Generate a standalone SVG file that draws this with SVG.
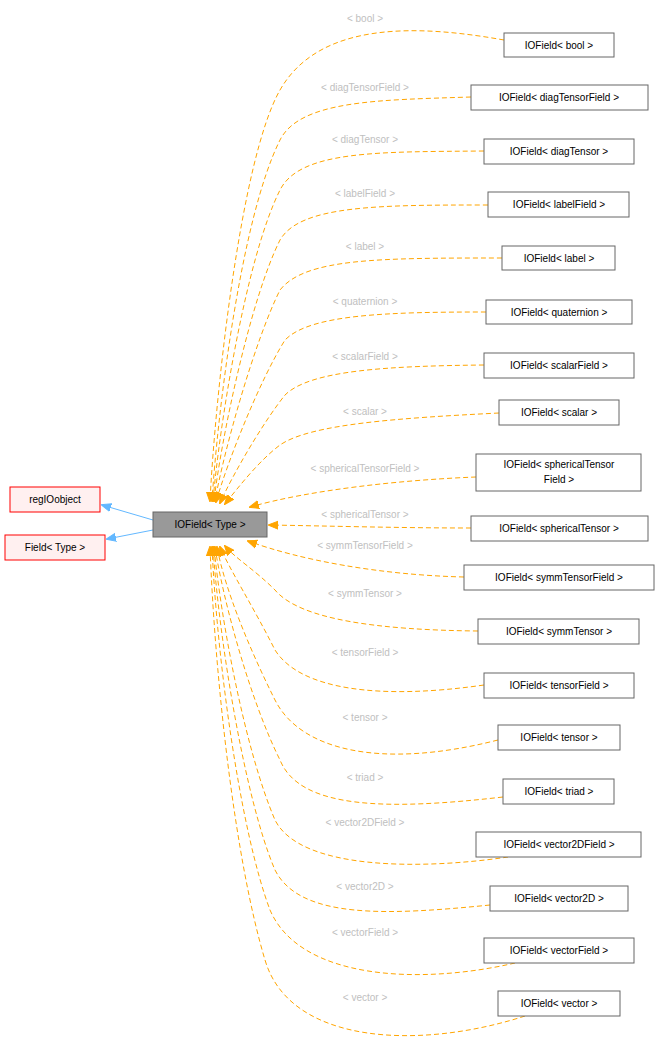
<svg xmlns="http://www.w3.org/2000/svg" width="659" height="1047" viewBox="0 0 659 1047">
<style>
text{font-family:"Liberation Sans",Arial,sans-serif;font-size:10px;text-anchor:middle}
.n rect{fill:#fff;stroke:#666;stroke-width:1}
.r rect{fill:#fff0f0;stroke:#f00;stroke-width:1}
.e{fill:none;stroke:#ffa500;stroke-dasharray:5,3;stroke-width:1}
.b{fill:none;stroke:#63b8ff;stroke-width:1}
.l{fill:#c0c0c0;font-size:10px}
</style>
<defs>
<marker id="ao" markerWidth="10" markerHeight="10" refX="9" refY="5" orient="auto" markerUnits="userSpaceOnUse" viewBox="0 0 10 10"><path d="M0,1 L10,5 L0,9 z" fill="#ffa500" stroke="#ffa500"/></marker>
<marker id="ab" markerWidth="10" markerHeight="10" refX="9" refY="5" orient="auto" markerUnits="userSpaceOnUse" viewBox="0 0 10 10"><path d="M0,1 L10,5 L0,9 z" fill="#63b8ff" stroke="#63b8ff"/></marker>
</defs>
<g id="edges">
<path class="b" d="M153,520 L102,505" marker-end="url(#ab)"/>
<path class="b" d="M153,530 L107,539" marker-end="url(#ab)"/>
<path class="e" marker-end="url(#ao)" d="M504,40 C420,25 320,20 280,90 C240,160 215,400 210,501"/>
<path class="e" marker-end="url(#ao)" d="M471,97 C380,100 300,100 280,140 C240,220 217,420 212,501"/>
<path class="e" marker-end="url(#ao)" d="M484,151 C380,152 300,150 280,190 C245,260 219,430 213,501"/>
<path class="e" marker-end="url(#ao)" d="M488,205 C380,205 300,205 280,240 C250,300 221,440 214,501"/>
<path class="e" marker-end="url(#ao)" d="M502,258 C380,258 305,258 280,290 C255,340 224,450 215,501"/>
<path class="e" marker-end="url(#ao)" d="M486,312 C390,312 310,314 285,340 C260,380 228,460 216,502"/>
<path class="e" marker-end="url(#ao)" d="M484,365 C390,366 310,370 285,395 C265,420 235,470 220,503"/>
<path class="e" marker-end="url(#ao)" d="M499,413 C400,418 310,424 280,445 C260,460 240,485 225,504"/>
<path class="e" marker-end="url(#ao)" d="M476,477 C400,480 310,490 250,507"/>
<path class="e" marker-end="url(#ao)" d="M471,528 C400,528 330,526 269,525"/>
<path class="e" marker-end="url(#ao)" d="M464,577 C380,575 300,560 248,541"/>
<path class="e" marker-end="url(#ao)" d="M478,631 C380,630 300,620 275,590 C255,570 235,558 225,546"/>
<path class="e" marker-end="url(#ao)" d="M484,685 C380,700 300,690 275,650 C255,610 230,570 220,547"/>
<path class="e" marker-end="url(#ao)" d="M498,740 C380,770 300,750 275,700 C250,650 225,590 217,547"/>
<path class="e" marker-end="url(#ao)" d="M503,797 C390,810 300,810 280,760 C250,700 223,600 215,547"/>
<path class="e" marker-end="url(#ao)" d="M508,857 C420,870 300,870 275,820 C245,750 221,620 214,547"/>
<path class="e" marker-end="url(#ao)" d="M490,905 C390,915 300,920 275,870 C245,800 219,640 213,547"/>
<path class="e" marker-end="url(#ao)" d="M515,963 C420,985 300,980 270,910 C240,830 217,660 212,547"/>
<path class="e" marker-end="url(#ao)" d="M525,1016 C420,1050 290,1045 265,960 C235,860 215,680 210,547"/>
</g>
<g class="l">
<text x="365" y="22" class="l">&lt; bool &gt;</text>
<text x="365" y="91" class="l">&lt; diagTensorField &gt;</text>
<text x="365" y="143" class="l">&lt; diagTensor &gt;</text>
<text x="365" y="197" class="l">&lt; labelField &gt;</text>
<text x="365" y="250" class="l">&lt; label &gt;</text>
<text x="365" y="305" class="l">&lt; quaternion &gt;</text>
<text x="365" y="360" class="l">&lt; scalarField &gt;</text>
<text x="365" y="415" class="l">&lt; scalar &gt;</text>
<text x="365" y="472" class="l">&lt; sphericalTensorField &gt;</text>
<text x="365" y="518" class="l">&lt; sphericalTensor &gt;</text>
<text x="365" y="549" class="l">&lt; symmTensorField &gt;</text>
<text x="365" y="597" class="l">&lt; symmTensor &gt;</text>
<text x="365" y="656" class="l">&lt; tensorField &gt;</text>
<text x="365" y="721" class="l">&lt; tensor &gt;</text>
<text x="365" y="781" class="l">&lt; triad &gt;</text>
<text x="365" y="826" class="l">&lt; vector2DField &gt;</text>
<text x="365" y="890" class="l">&lt; vector2D &gt;</text>
<text x="365" y="936" class="l">&lt; vectorField &gt;</text>
<text x="365" y="1001" class="l">&lt; vector &gt;</text>
</g>
<g id="n_center"><rect x="153" y="512" width="114" height="25" fill="#999" stroke="#666"/><text x="210" y="528">IOField&lt; Type &gt;</text></g>
<g id="n_regIOobject" class="r"><rect x="10" y="487" width="90" height="25"/><text x="55" y="503">regIOobject</text></g>
<g id="n_field" class="r"><rect x="5" y="535" width="100" height="25"/><text x="55" y="551">Field&lt; Type &gt;</text></g>
<g id="n1" class="n"><rect x="504" y="33" width="110" height="24"/><text x="559" y="49">IOField&lt; bool &gt;</text></g>
<g id="n2" class="n"><rect x="471" y="85" width="177" height="25"/><text x="559" y="101">IOField&lt; diagTensorField &gt;</text></g>
<g id="n3" class="n"><rect x="484" y="139" width="150" height="25"/><text x="559" y="155">IOField&lt; diagTensor &gt;</text></g>
<g id="n4" class="n"><rect x="488" y="192" width="141" height="25"/><text x="559" y="208">IOField&lt; labelField &gt;</text></g>
<g id="n5" class="n"><rect x="502" y="246" width="113" height="24"/><text x="559" y="262">IOField&lt; label &gt;</text></g>
<g id="n6" class="n"><rect x="486" y="300" width="146" height="24"/><text x="559" y="316">IOField&lt; quaternion &gt;</text></g>
<g id="n7" class="n"><rect x="484" y="353" width="150" height="25"/><text x="559" y="369">IOField&lt; scalarField &gt;</text></g>
<g id="n8" class="n"><rect x="499" y="400" width="120" height="25"/><text x="559" y="416">IOField&lt; scalar &gt;</text></g>
<g id="n9" class="n"><rect x="476" y="454" width="165" height="37"/><text x="559" y="468">IOField&lt; sphericalTensor</text><text x="559" y="483">Field &gt;</text></g>
<g id="n10" class="n"><rect x="471" y="516" width="177" height="25"/><text x="559" y="532">IOField&lt; sphericalTensor &gt;</text></g>
<g id="n11" class="n"><rect x="464" y="565" width="190" height="25"/><text x="559" y="581">IOField&lt; symmTensorField &gt;</text></g>
<g id="n12" class="n"><rect x="478" y="619" width="161" height="25"/><text x="559" y="635">IOField&lt; symmTensor &gt;</text></g>
<g id="n13" class="n"><rect x="484" y="673" width="150" height="25"/><text x="559" y="689">IOField&lt; tensorField &gt;</text></g>
<g id="n14" class="n"><rect x="498" y="725" width="122" height="25"/><text x="559" y="741">IOField&lt; tensor &gt;</text></g>
<g id="n15" class="n"><rect x="503" y="779" width="111" height="25"/><text x="559" y="795">IOField&lt; triad &gt;</text></g>
<g id="n16" class="n"><rect x="476" y="832" width="165" height="25"/><text x="559" y="848">IOField&lt; vector2DField &gt;</text></g>
<g id="n17" class="n"><rect x="490" y="886" width="138" height="25"/><text x="559" y="902">IOField&lt; vector2D &gt;</text></g>
<g id="n18" class="n"><rect x="484" y="938" width="150" height="25"/><text x="559" y="954">IOField&lt; vectorField &gt;</text></g>
<g id="n19" class="n"><rect x="498" y="991" width="122" height="25"/><text x="559" y="1007">IOField&lt; vector &gt;</text></g>
</svg>
